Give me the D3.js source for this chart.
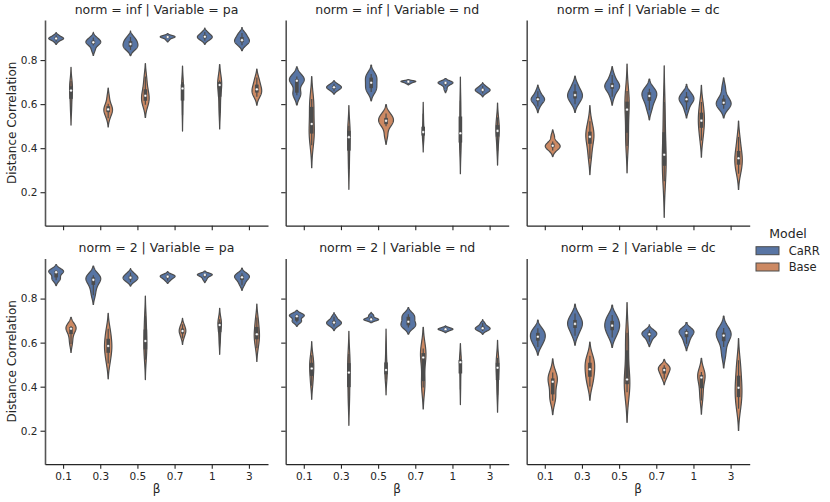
<!DOCTYPE html>
<html>
<head>
<meta charset="utf-8">
<script src="https://cdn.jsdelivr.net/npm/d3@7"></script>
<style>
body { margin: 0; background: #fff; }
text { font-family: "DejaVu Sans", sans-serif; fill: #262626; }
</style>
</head>
<body>
<svg id="chart" width="830" height="502"></svg>
<script>
var betas = ["0.1", "0.3", "0.5", "0.7", "1", "3"];
var models = ["CaRR", "Base"];
var norms = ["inf", "2"];
var variables = ["pa", "nd", "dc"];
var yTicks = [0.2, 0.4, 0.6, 0.8];

// runs for each beta (one list per beta), norm = inf
var infPaCaRR = [
    [.883, .892, .895, .897, .899, .902, .906, .913],
    [.845, .866, .875, .879, .882, .887, .893, .903],
    [.846, .855, .862, .868, .877, .884, .893, .905],
    [.891, .899, .902, .904, .906, .907, .909, .912],
    [.888, .896, .900, .904, .908, .912, .918, .928],
    [.867, .876, .883, .888, .893, .902, .912, .923]
];
var infPaBase = [
    [.567, .600, .632, .655, .668, .678, .690, .705],
    [.536, .556, .566, .573, .579, .587, .602, .634],
    [.597, .607, .618, .632, .644, .660, .690, .726],
    [.550, .590, .625, .662, .680, .688, .694, .700],
    [.560, .600, .645, .680, .694, .700, .703, .707],
    [.634, .645, .655, .662, .672, .685, .700, .721]
];
var infNdCaRR = [
    [.640, .647, .652, .700, .706, .710, .713, .718, .726],
    [.659, .667, .671, .675, .678, .681, .686, .693],
    [.655, .665, .675, .690, .704, .718, .728, .737],
    [.693, .697, .700, .701, .703, .704, .705, .706],
    [.667, .683, .692, .695, .698, .699, .700, .701],
    [.648, .655, .660, .663, .666, .669, .675, .683]
];
var infNdBase = [
    [.413, .455, .470, .490, .530, .580, .610, .623],
    [.305, .355, .400, .440, .460, .475, .490, .502],
    [.458, .500, .512, .520, .528, .535, .545, .557],
    [.435, .450, .460, .468, .478, .490, .520, .556],
    [.392, .412, .430, .455, .480, .530, .585, .615],
    [.388, .430, .460, .472, .485, .500, .520, .540]
];
var infDcCaRR = [
    [.589, .607, .615, .620, .624, .630, .640, .659],
    [.600, .618, .628, .637, .645, .655, .668, .690],
    [.634, .662, .672, .679, .685, .692, .705, .732],
    [.572, .600, .620, .632, .642, .652, .660, .670],
    [.572, .598, .612, .619, .625, .632, .642, .655],
    [.579, .590, .598, .603, .610, .620, .640, .678]
];
var infDcBase = [
    [.389, .400, .405, .409, .413, .418, .430, .456],
    [.352, .390, .430, .445, .458, .470, .490, .522],
    [.410, .440, .480, .560, .590, .605, .630, .660],
    [.250, .290, .330, .355, .385, .450, .540, .610],
    [.435, .470, .500, .515, .535, .555, .580, .610],
    [.284, .310, .330, .345, .363, .380, .410, .451]
];

// norm = 2
var twoPaCaRR = [
    [.883, .890, .898, .918, .922, .924, .926, .930],
    [.815, .845, .868, .880, .890, .895, .900, .906],
    [.875, .883, .888, .893, .897, .902, .908, .918],
    [.881, .889, .894, .898, .901, .903, .906, .910],
    [.885, .895, .902, .906, .909, .910, .911, .912],
    [.861, .876, .887, .894, .899, .903, .908, .915]
];
var twoPaBase = [
    [.594, .620, .645, .660, .666, .670, .673, .676],
    [.505, .535, .560, .578, .592, .610, .640, .663],
    [.522, .552, .575, .600, .615, .650, .688, .722],
    [.619, .635, .643, .650, .656, .662, .671, .683],
    [.597, .625, .655, .675, .685, .690, .696, .706],
    [.575, .600, .620, .633, .643, .665, .690, .714]
];
var twoNdCaRR = [
    [.693, .697, .700, .718, .722, .724, .726, .728],
    [.673, .681, .686, .689, .693, .697, .705, .718],
    [.702, .703, .704, .705, .706, .710, .720, .726],
    [.669, .675, .680, .688, .702, .715, .724, .729],
    [.652, .656, .659, .660, .662, .663, .666, .669],
    [.653, .658, .662, .664, .667, .671, .678, .689]
];
var twoNdBase = [
    [.404, .430, .455, .475, .490, .505, .520, .543],
    [.328, .362, .410, .450, .478, .500, .528, .548],
    [.433, .445, .460, .470, .482, .500, .540, .592],
    [.396, .410, .430, .520, .545, .550, .560, .573],
    [.387, .430, .470, .505, .517, .520, .523, .527],
    [.363, .400, .440, .480, .492, .505, .518, .531]
];
var twoDcCaRR = [
    [.580, .600, .612, .622, .632, .642, .652, .665],
    [.631, .655, .670, .680, .690, .700, .712, .732],
    [.623, .645, .660, .672, .682, .695, .710, .726],
    [.604, .622, .630, .636, .640, .645, .650, .658],
    [.594, .615, .628, .640, .648, .652, .656, .661],
    [.540, .580, .615, .628, .636, .643, .652, .666]
];
var twoDcBase = [
    [.336, .350, .370, .415, .430, .435, .445, .464],
    [.401, .430, .450, .470, .488, .505, .520, .540],
    [.375, .400, .415, .425, .440, .550, .610, .645],
    [.436, .452, .462, .472, .480, .485, .490, .497],
    [.337, .370, .400, .435, .448, .452, .458, .467],
    [.300, .330, .360, .385, .405, .440, .480, .520]
];

var colors = ["#5875a4", "#cc8963"];
var gray = "#4c4c4c";

var samples = {
    "inf|pa": [infPaCaRR, infPaBase],
    "inf|nd": [infNdCaRR, infNdBase],
    "inf|dc": [infDcCaRR, infDcBase],
    "2|pa": [twoPaCaRR, twoPaBase],
    "2|nd": [twoNdCaRR, twoNdBase],
    "2|dc": [twoDcCaRR, twoDcBase]
};

var panelX = [45, 285.7, 526.7], panelW = 223;
var panelY = [20, 258.5], panelH = 205.7;

var svg = d3.select("#chart");

var x = d3.scaleBand().domain(betas).range([0, panelW]);
var y = d3.scaleLinear().domain([0.048, 0.982]).range([panelH, 0]);
var bw = x.bandwidth();

// gaussian kde, scott bandwidth, cut = 2
function kde(values) {
    var n = values.length;
    var h = d3.deviation(values) * Math.pow(n, -0.2);
    var lo = d3.min(values) - 2 * h, hi = d3.max(values) + 2 * h;
    return d3.range(100).map(function (i) {
        var v = lo + (hi - lo) * i / 99;
        var d = d3.mean(values, function (s) {
            return Math.exp(-0.5 * Math.pow((v - s) / h, 2));
        }) / (h * Math.sqrt(2 * Math.PI));
        return [v, d];
    });
}

norms.forEach(function (norm, r) {
    variables.forEach(function (variable, c) {
        var g = svg.append("g")
            .attr("transform", "translate(" + panelX[c] + "," + panelY[r] + ")");

        // axes
        var ax = g.append("g")
            .call(d3.axisLeft(y).tickValues(yTicks).tickSize(4.5).tickSizeOuter(0).tickPadding(3)
                .tickFormat(c == 0 ? d3.format(".1f") : function () { return ""; }));
        var bx = g.append("g")
            .attr("transform", "translate(0," + panelH + ")")
            .call(d3.axisBottom(x).tickSize(4.5).tickSizeOuter(0).tickPadding(4)
                .tickFormat(r == 1 ? null : function () { return ""; }));
        [ax, bx].forEach(function (a) {
            a.attr("font-family", null).attr("font-size", null);
            a.selectAll("path").attr("stroke", "#262626").attr("stroke-width", 1.2);
            a.selectAll("line").attr("stroke", "#262626").attr("stroke-width", 1.1);
            a.selectAll("text").style("font-size", "10.5px").attr("fill", "#262626");
        });
        ax.select("path").attr("stroke", "#555").attr("stroke-width", 1.6);

        g.append("text")
            .attr("x", panelW / 2)
            .attr("y", r == 0 ? -6 : -6.2)
            .attr("text-anchor", "middle")
            .style("font-size", "12.5px")
            .text("norm = " + norm + " | Variable = " + variable);

        if (c == 0) {
            g.append("text")
                .attr("transform", "translate(" + (15.5 - panelX[0]) + "," + (panelH / 2) + ") rotate(-90)")
                .attr("text-anchor", "middle")
                .style("font-size", "12px")
                .text("Distance Correlation");
        }
        if (r == 1) {
            g.append("text")
                .attr("x", panelW / 2)
                .attr("y", panelH + 28.5)
                .attr("text-anchor", "middle")
                .style("font-size", "12px")
                .text("β");
        }

        var groups = samples[norm + "|" + variable];

        betas.forEach(function (b, i) {
            var dens = [kde(groups[0][i]), kde(groups[1][i])];
            // scale = "area", normalised inside each beta
            var maxd = d3.max(dens, function (dd) { return d3.max(dd, function (p) { return p[1]; }); });

            models.forEach(function (m, k) {
                var vals = groups[k][i].slice().sort(d3.ascending);
                var cx = x(b) + bw / 2 + (k == 0 ? -0.2 : 0.2) * bw;
                var half = 0.2 * bw;

                var area = d3.area()
                    .y(function (p) { return y(p[0]); })
                    .x0(function (p) { return cx - p[1] / maxd * half; })
                    .x1(function (p) { return cx + p[1] / maxd * half; });

                g.append("path")
                    .datum(dens[k])
                    .attr("d", area)
                    .attr("fill", colors[k])
                    .attr("stroke", gray)
                    .attr("stroke-width", 1.2)
                    .attr("stroke-linejoin", "round");

                var q1 = d3.quantile(vals, 0.25), q2 = d3.quantile(vals, 0.5), q3 = d3.quantile(vals, 0.75);
                var iqr = q3 - q1;
                var h1 = d3.min(vals.filter(function (v) { return v >= q1 - 1.5 * iqr; }));
                var h2 = d3.max(vals.filter(function (v) { return v <= q3 + 1.5 * iqr; }));

                g.append("line")
                    .attr("x1", cx).attr("x2", cx)
                    .attr("y1", y(h1)).attr("y2", y(h2))
                    .attr("stroke", gray).attr("stroke-width", 1.2);
                g.append("line")
                    .attr("x1", cx).attr("x2", cx)
                    .attr("y1", y(q1)).attr("y2", y(q3))
                    .attr("stroke", gray).attr("stroke-width", 3.6);
                g.append("circle")
                    .attr("cx", cx).attr("cy", y(q2))
                    .attr("r", 1.3)
                    .attr("fill", "white")
                    .attr("stroke", gray).attr("stroke-width", 0.3);
            });
        });
    });
});

// legend
var legend = svg.append("g");
legend.append("text")
    .attr("x", 769.3).attr("y", 237.5)
    .style("font-size", "12.5px")
    .text("Model");
models.forEach(function (m, k) {
    legend.append("rect")
        .attr("x", 756).attr("y", 246.7 + k * 16.3)
        .attr("width", 23).attr("height", 8)
        .attr("fill", colors[k])
        .attr("stroke", gray).attr("stroke-width", 1);
    legend.append("text")
        .attr("x", 788.7).attr("y", 254.8 + k * 16.3)
        .style("font-size", "11.5px")
        .text(m);
});
</script>
</body>
</html>
